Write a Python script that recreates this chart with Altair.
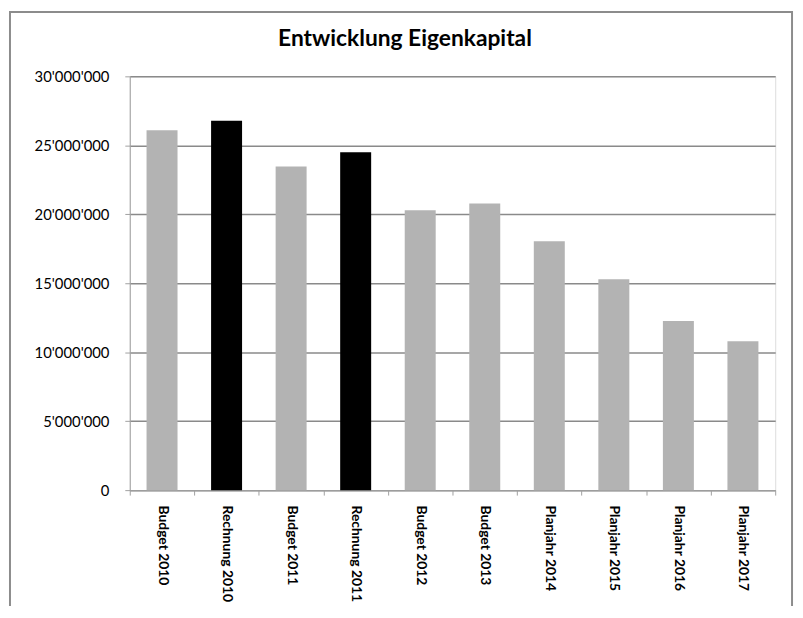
import altair as alt
import pandas as pd

categories = ["Budget 2010", "Rechnung 2010", "Budget 2011", "Rechnung 2011",
              "Budget 2012", "Budget 2013", "Planjahr 2014", "Planjahr 2015",
              "Planjahr 2016", "Planjahr 2017"]
values = [26100000, 26780000, 23470000, 24500000, 20290000, 20790000,
          18040000, 15290000, 12270000, 10790000]
types = ["Budget", "Rechnung", "Budget", "Rechnung", "Budget", "Budget",
         "Planjahr", "Planjahr", "Planjahr", "Planjahr"]
y_ticks = [0, 5000000, 10000000, 15000000, 20000000, 25000000, 30000000]

df = pd.DataFrame({"Kategorie": categories, "Wert": values, "Typ": types})

W, H = 652, 418

base = alt.Chart(df)

bars = base.mark_bar(width=alt.RelativeBandSize(0.48)).encode(
    x=alt.X("Kategorie:N", sort=categories,
            scale=alt.Scale(paddingInner=0, paddingOuter=0),
            axis=alt.Axis(title=None, labelAngle=90, labelAlign="left",
                          labelBaseline="middle", labelFont="Lato",
                          labelFontWeight="bold", labelFontSize=14,
                          labelColor="#000000", labelPadding=10, labelLimit=300,
                          tickBand="extent", tickSize=5, tickColor="#a0a0a0",
                          domainColor="#a0a0a0", grid=False)),
    y=alt.Y("Wert:Q", scale=alt.Scale(domain=[0, 30000000]),
            axis=alt.Axis(title=None, values=y_ticks,
                          labelExpr="replace(format(datum.value, ','), regexp(',', 'g'), \"'\")",
                          labelFont="Lato", labelFontSize=15, labelColor="#000000",
                          labelPadding=16, tickSize=5, tickColor="#a0a0a0",
                          domainColor="#a0a0a0", gridColor="#8a8a8a",
                          gridWidth=1.5, grid=True)),
    color=alt.Color("Typ:N", scale=alt.Scale(domain=["Budget", "Rechnung", "Planjahr"],
                                             range=["#b3b3b3", "#000000", "#b3b3b3"]),
                    legend=None),
)

frame = alt.Chart(pd.DataFrame({"f": [0]})).mark_rect(
    fill=None, stroke="#8c8c8c", strokeWidth=2, clip=False
).encode(x=alt.value(-121), x2=alt.value(669), y=alt.value(-65), y2=alt.value(700))

chart = alt.layer(bars, frame).properties(
    width=W, height=H,
    title=alt.TitleParams("Entwicklung Eigenkapital", font="Lato", fontSize=23,
                          fontWeight="bold", color="#000000", dx=-48, offset=-40),
    autosize=alt.AutoSizeParams(type="none"),
    padding={"left": 123, "top": 66, "right": 20, "bottom": 114},
).configure_view(stroke=None).configure(background="#ffffff")

chart.save("out.html", embed_options={"renderer": "svg", "actions": False})
